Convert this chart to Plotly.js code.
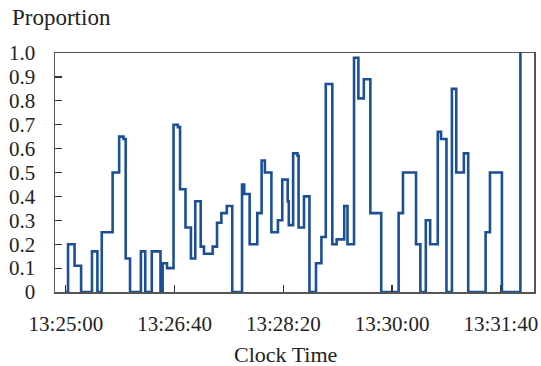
<!DOCTYPE html>
<html>
<head>
<meta charset="utf-8">
<script src="https://cdn.plot.ly/plotly-3.0.1.min.js"></script>
<style>
  html, body { margin: 0; padding: 0; background: #fff; }
  #chart { width: 541px; height: 366px; }
</style>
</head>
<body>
<div id="chart"></div>
<script>
// Clock times where the proportion changes (each value holds until the next time)
const clockTimes = [
  '13:25:00', '13:25:02', '13:25:08', '13:25:14', '13:25:24', '13:25:29', '13:25:33', '13:25:43',
  '13:25:49', '13:25:53', '13:25:55', '13:25:59', '13:26:09', '13:26:13', '13:26:19', '13:26:27',
  '13:26:29', '13:26:33', '13:26:39', '13:26:43', '13:26:45', '13:26:50', '13:26:55', '13:26:59',
  '13:27:04', '13:27:07', '13:27:15', '13:27:19', '13:27:23', '13:27:28', '13:27:33', '13:27:42',
  '13:27:44', '13:27:49', '13:27:56', '13:28:00', '13:28:03', '13:28:09', '13:28:15', '13:28:19',
  '13:28:24', '13:28:25', '13:28:29', '13:28:33', '13:28:34', '13:28:39', '13:28:44', '13:28:50',
  '13:28:55', '13:28:59', '13:29:05', '13:29:09', '13:29:16', '13:29:19', '13:29:25', '13:29:29',
  '13:29:34', '13:29:40', '13:29:50', '13:30:06', '13:30:10', '13:30:22', '13:30:26', '13:30:31',
  '13:30:35', '13:30:42', '13:30:45', '13:30:50', '13:30:55', '13:30:59', '13:31:06', '13:31:10',
  '13:31:26', '13:31:30', '13:31:41', '13:31:58'
];

const proportions = [
  0, 0.20, 0.11, 0, 0.17, 0, 0.25, 0.50,
  0.65, 0.64, 0.14, 0, 0.17, 0, 0.17, 0,
  0.12, 0.10, 0.70, 0.69, 0.43, 0.27, 0.14, 0.38,
  0.19, 0.16, 0.19, 0.29, 0.33, 0.36, 0, 0.45,
  0.41, 0.20, 0.33, 0.55, 0.50, 0.25, 0.30, 0.47,
  0.38, 0.28, 0.58, 0.57, 0.27, 0.40, 0, 0.12,
  0.23, 0.87, 0.20, 0.22, 0.36, 0.20, 0.98, 0.81,
  0.89, 0.33, 0, 0.33, 0.50, 0.20, 0, 0.30,
  0.20, 0.67, 0.64, 0, 0.85, 0.50, 0.58, 0,
  0.25, 0.50, 0, 1.0
];

const xTickLabels = ['13:25:00', '13:26:40', '13:28:20', '13:30:00', '13:31:40'];
const yTickValues = [0, 0.1, 0.2, 0.3, 0.4, 0.5, 0.6, 0.7, 0.8, 0.9, 1.0];
const yTickLabels = ['0', '0.1', '0.2', '0.3', '0.4', '0.5', '0.6', '0.7', '0.8', '0.9', '1.0'];

const day = '2000-01-01 ';
const onDay = t => day + t;

const serif = '"Liberation Serif", "Times New Roman", serif';
const ink = '#222';
const frame = '#555';

const trace = {
  type: 'scatter',
  mode: 'lines',
  x: clockTimes.map(onDay),
  y: proportions,
  line: { shape: 'hv', color: '#1b4f96', width: 2.6 },
  hoverinfo: 'skip'
};

const layout = {
  width: 541,
  height: 366,
  margin: { l: 55, r: 7, t: 53, b: 74 },
  paper_bgcolor: '#fff',
  plot_bgcolor: '#fff',
  showlegend: false,
  font: { family: serif, size: 21, color: ink },
  xaxis: {
    type: 'date',
    range: [onDay('13:24:50'), onDay('13:32:10.5')],
    tickmode: 'array',
    tickvals: xTickLabels.map(onDay),
    ticktext: xTickLabels,
    ticks: 'inside',
    ticklen: 7,
    tickwidth: 1.2,
    tickcolor: '#333',
    ticklabelstandoff: 12,
    showgrid: false,
    zeroline: false,
    showline: true,
    linecolor: frame,
    linewidth: 1.5,
    mirror: true,
    tickfont: { family: serif, size: 21, color: ink }
  },
  yaxis: {
    range: [0, 1],
    tickmode: 'array',
    tickvals: yTickValues,
    ticktext: yTickLabels,
    ticks: 'inside',
    ticklen: 7,
    tickwidth: 1.2,
    tickcolor: '#333',
    ticklabelstandoff: 14,
    showgrid: false,
    zeroline: false,
    showline: true,
    linecolor: frame,
    linewidth: 1.5,
    mirror: true,
    tickfont: { family: serif, size: 21, color: ink }
  },
  annotations: [
    {
      text: 'Proportion',
      xref: 'paper', yref: 'paper',
      x: (10 - 55) / 479, y: 1 + (53 - 17) / 239,
      xanchor: 'left', yanchor: 'middle',
      showarrow: false,
      font: { family: serif, size: 23, color: ink }
    },
    {
      text: 'Clock Time',
      xref: 'paper', yref: 'paper',
      x: (285 - 55) / 479, y: -(354 - 292) / 239,
      xanchor: 'center', yanchor: 'middle',
      showarrow: false,
      font: { family: serif, size: 22, color: ink }
    }
  ]
};

Plotly.newPlot('chart', [trace], layout, { displayModeBar: false, staticPlot: true });
</script>
</body>
</html>
